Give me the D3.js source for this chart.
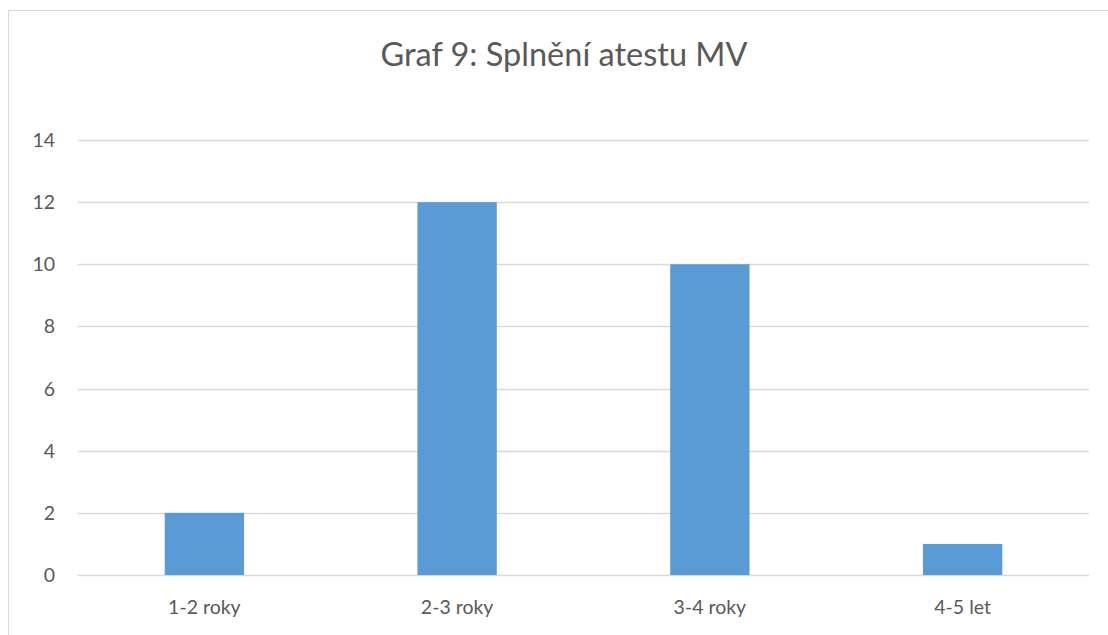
<!DOCTYPE html>
<html><head><meta charset="utf-8">
<script src="https://cdn.jsdelivr.net/npm/d3@7"></script>
<style>body{margin:0;background:#fff}</style>
</head><body>
<svg id="c" width="1108" height="635"></svg>
<script>
const categories = ["1-2 roky", "2-3 roky", "3-4 roky", "4-5 let"];
const values = [2, 12, 10, 1];
const yTicks = [0, 2, 4, 6, 8, 10, 12, 14];
const title = "Graf 9: Splnění atestu MV";

const svg = d3.select("#c");
const font = "Lato, 'Open Sans', sans-serif";
const margin = {left: 78, right: 1089, top: 140, bottom: 575};

// outer border
svg.append("rect").attr("x", 8.5).attr("y", 10.5).attr("width", 1200).attr("height", 700)
  .attr("fill", "none").attr("stroke", "#d9d9d9").attr("stroke-width", 1);

const x = d3.scaleBand().domain(categories).range([margin.left, margin.right]).paddingInner(0).paddingOuter(0);
const y = d3.scaleLinear().domain([0, 14]).range([margin.bottom, margin.top]);

// gridlines
svg.append("g").selectAll("line").data(yTicks).join("line")
  .attr("x1", margin.left).attr("x2", margin.right)
  .attr("y1", d => Math.round(y(d)) + 0.5).attr("y2", d => Math.round(y(d)) + 0.5)
  .attr("stroke", "#d9d9d9").attr("stroke-width", 1.3);

// bars
const bw = x.bandwidth() * 0.314;
svg.append("g").selectAll("rect").data(values).join("rect")
  .attr("x", (d, i) => x(categories[i]) + x.bandwidth() / 2 - bw / 2)
  .attr("width", bw)
  .attr("y", d => y(d))
  .attr("height", d => y(0) - y(d))
  .attr("fill", "#5b9bd5");

// y labels
svg.append("g").selectAll("text").data(yTicks).join("text")
  .attr("x", 55).attr("y", d => y(d) + 7)
  .attr("text-anchor", "end")
  .attr("font-family", font).attr("font-size", 19.5).attr("fill", "#595959")
  .text(d => d);

// x labels
svg.append("g").selectAll("text").data(categories).join("text")
  .attr("x", d => x(d) + x.bandwidth() / 2).attr("y", 614)
  .attr("text-anchor", "middle")
  .attr("font-family", font).attr("font-size", 19.5).attr("fill", "#595959")
  .text(d => d);

// title
svg.append("text").attr("x", 564).attr("y", 66).attr("text-anchor", "middle")
  .attr("font-family", font).attr("font-size", 32.5).attr("fill", "#595959")
  .text(title);
</script>
</body></html>
